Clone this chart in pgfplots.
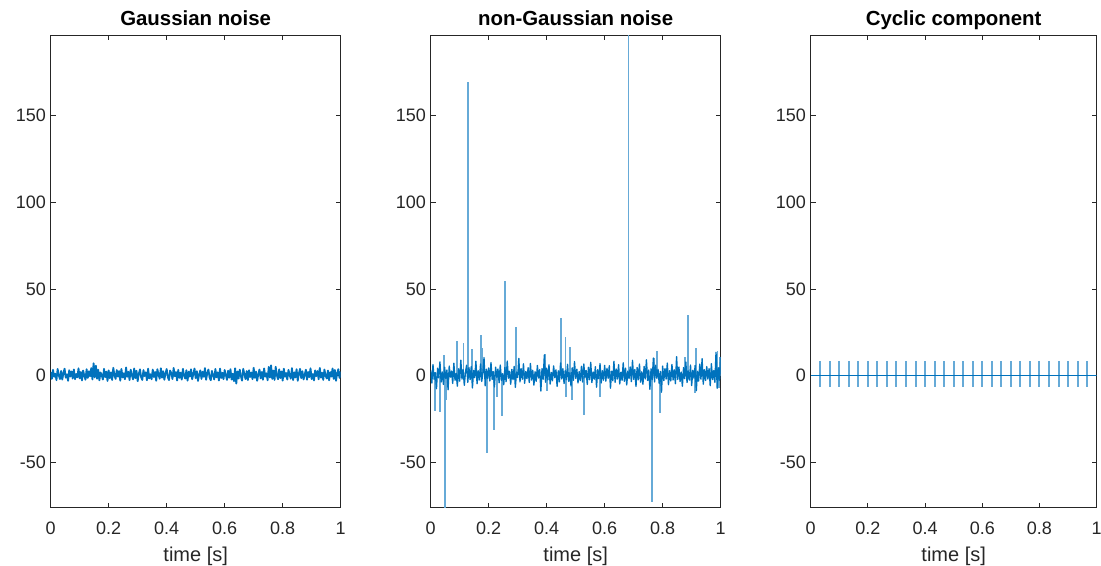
\documentclass[border=0pt]{standalone}
\usepackage{pgfplots}
\pgfplotsset{compat=1.18}
\usepackage{fontspec}
\setmainfont{Liberation Sans}
\definecolor{mblue}{HTML}{0072BD}
\definecolor{axgray}{HTML}{262626}
\colorlet{lblue}{mblue!60!white}
\pgfplotsset{myax/.style={
  anchor=south west, width=217.5pt, height=354.2pt, scale only axis,
  xmin=0, xmax=1, ymin=-76, ymax=196,
  xtick={0,0.2,0.4,0.6,0.8,1}, xticklabels={0,0.2,0.4,0.6,0.8,1},
  ytick={-50,0,50,100,150}, yticklabels={-50,0,50,100,150},
  tick align=inside, major tick length=3.75pt,
  axis line style={draw=axgray, line width=0.7pt},
  tick style={draw=axgray, line width=0.6pt},
  ticklabel style={font=\fontsize{13.5}{16}\selectfont, text=axgray},
  /pgf/number format/assume math mode=true,
  xticklabel style={anchor=base, yshift=-20pt},
  xlabel={time [s]},
  xlabel style={font=\fontsize{15}{18}\selectfont, text=axgray, at={(axis description cs:0.5,0)}, anchor=base, yshift=-40pt},
  title style={font=\fontsize{15.3}{18}\selectfont\bfseries, text=black, at={(axis description cs:0.5,1)}, anchor=base, yshift=1.5pt},
}}
\begin{document}
\begin{tikzpicture}
\path[use as bounding box] (0,0) rectangle (825.75pt,424.5pt);
% ---------------- Gaussian noise
\begin{axis}[myax, at={(38.0pt,43.7pt)}, title={Gaussian noise}]
\addplot[mblue, line width=1.35pt, line join=round] coordinates {
(0,2.1)(0.004,-1.8)(0.008,3.4)(0.012,-0.6)(0.016,1.2)(0.020,-2.5)(0.024,3.9)(0.028,0.3)(0.032,-1.9)(0.036,2.8)
(0.040,-2.2)(0.044,1.5)(0.048,4.1)(0.052,-1.1)(0.056,0.8)(0.060,-2.9)(0.064,3.2)(0.068,-0.4)(0.072,2.5)(0.076,-1.6)
(0.080,3.6)(0.084,-2.0)(0.088,1.0)(0.092,-0.9)(0.096,4.3)(0.100,-1.5)(0.104,2.2)(0.108,-2.7)(0.112,3.0)(0.116,0.1)
(0.120,-2.3)(0.124,3.8)(0.128,-1.2)(0.132,2.6)(0.136,-0.3)(0.140,4.4)(0.144,-2.1)(0.148,7.2)(0.152,-1.0)(0.156,5.8)
(0.160,-1.7)(0.164,3.5)(0.168,-2.6)(0.172,1.9)(0.176,0.5)(0.180,-2.2)(0.184,4.0)(0.188,-0.8)(0.192,2.4)(0.196,-3.0)
(0.200,3.1)(0.204,-1.4)(0.208,2.0)(0.212,-2.4)(0.216,4.6)(0.220,0.2)(0.224,-1.8)(0.228,3.3)(0.232,-0.5)(0.236,2.7)
(0.240,-2.8)(0.244,3.9)(0.248,-1.0)(0.252,1.4)(0.256,-2.0)(0.260,4.8)(0.264,-0.6)(0.268,2.3)(0.272,-2.5)(0.276,3.5)
(0.280,0.4)(0.284,-2.1)(0.288,4.2)(0.292,-1.3)(0.296,2.9)(0.300,-3.1)(0.304,1.1)(0.308,3.7)(0.312,-0.9)(0.316,-2.4)
(0.320,3.3)(0.324,-0.2)(0.328,2.0)(0.332,-2.6)(0.336,4.1)(0.340,-1.5)(0.344,0.9)(0.348,-2.0)(0.352,3.6)(0.356,-0.7)
(0.360,2.2)(0.364,-2.9)(0.368,3.8)(0.372,0.6)(0.376,-1.7)(0.380,4.3)(0.384,-1.1)(0.388,2.6)(0.392,-2.3)(0.396,1.3)
(0.400,3.9)(0.404,-0.8)(0.408,-2.5)(0.412,3.0)(0.416,1.6)(0.420,-1.9)(0.424,4.5)(0.428,-0.3)(0.432,2.1)(0.436,-2.7)
(0.440,3.4)(0.444,-1.2)(0.448,1.8)(0.452,-2.2)(0.456,4.0)(0.460,0.0)(0.464,-1.6)(0.468,3.2)(0.472,-2.8)(0.476,2.4)
(0.480,-0.5)(0.484,3.7)(0.488,-2.0)(0.492,1.0)(0.496,4.2)(0.500,-1.4)(0.504,2.6)(0.508,-3.0)(0.512,0.7)(0.516,3.1)
(0.520,-1.8)(0.524,2.3)(0.528,-0.6)(0.532,4.4)(0.536,-2.3)(0.540,1.5)(0.544,3.6)(0.548,-1.0)(0.552,-2.6)(0.556,2.8)
(0.560,0.3)(0.564,-2.1)(0.568,3.9)(0.572,-0.9)(0.576,2.0)(0.580,-2.7)(0.584,4.1)(0.588,-1.3)(0.592,1.7)(0.596,-2.0)
(0.600,3.3)(0.604,0.5)(0.608,-2.4)(0.612,2.9)(0.616,-1.1)(0.620,3.8)(0.624,-2.2)(0.628,1.2)(0.632,-3.1)(0.636,4.3)
(0.640,-4.5)(0.644,2.5)(0.648,-1.6)(0.652,3.5)(0.656,-0.4)(0.660,-2.8)(0.664,4.0)(0.668,0.9)(0.672,-1.9)(0.676,2.7)
(0.680,-2.5)(0.684,3.2)(0.688,-0.7)(0.692,1.9)(0.696,-2.0)(0.700,4.6)(0.704,-1.2)(0.708,2.4)(0.712,-2.9)(0.716,0.8)
(0.720,3.6)(0.724,-1.5)(0.728,2.2)(0.732,-2.3)(0.736,4.2)(0.740,-0.5)(0.744,1.4)(0.748,-2.6)(0.752,5.1)(0.756,-1.0)
(0.760,6.0)(0.764,-1.8)(0.768,3.0)(0.772,-2.4)(0.776,5.2)(0.780,0.2)(0.784,-2.0)(0.788,3.7)(0.792,-1.3)(0.796,2.5)
(0.800,-2.8)(0.804,4.1)(0.808,-0.6)(0.812,1.6)(0.816,-2.2)(0.820,3.4)(0.824,0.4)(0.828,-1.7)(0.832,4.4)(0.836,-2.5)
(0.840,2.0)(0.844,-1.0)(0.848,3.8)(0.852,-2.9)(0.856,1.3)(0.860,4.0)(0.864,-1.4)(0.868,2.6)(0.872,-2.1)(0.876,0.6)
(0.880,3.5)(0.884,-2.3)(0.888,2.2)(0.892,-0.8)(0.896,4.3)(0.900,-1.9)(0.904,1.0)(0.908,-2.7)(0.912,3.1)(0.916,-0.2)
(0.920,2.7)(0.924,-2.0)(0.928,4.5)(0.932,-1.1)(0.936,1.8)(0.940,-2.4)(0.944,3.6)(0.948,0.1)(0.952,-1.6)(0.956,3.0)
(0.960,-2.6)(0.964,2.1)(0.968,-0.5)(0.972,4.2)(0.976,-1.8)(0.980,3.3)(0.984,-2.9)(0.988,1.5)(0.992,3.8)(0.996,-1.2)
(1.000,2.4)};
\end{axis}
% ---------------- non-Gaussian noise
\begin{axis}[myax, at={(323.0pt,43.7pt)}, title={non-Gaussian noise}]
\addplot[lblue, line width=1.4pt, ycomb] coordinates {
(0.014,-20.5)(0.031,-21)(0.046,12)(0.049,-95)(0.054,-13.8)(0.092,20.3)(0.113,19)(0.129,169)(0.144,15.3)
(0.175,23.6)(0.178,16)(0.193,-44.5)(0.218,-31)(0.230,-12.3)(0.245,-23.4)(0.255,54.6)(0.293,28)(0.393,12.6)
(0.400,-9)(0.448,33)(0.465,22.6)(0.467,-12)(0.480,16.5)(0.488,-14)(0.529,-22.4)(0.583,-12)(0.682,250)
(0.764,-72.8)(0.770,10)(0.779,14)(0.791,-21.4)(0.876,11)(0.887,35)(0.910,-10)(0.916,16)(0.989,14.5)(0.993,-7)(0.997,11)};
\addplot[mblue, line width=1.0pt, line join=round] coordinates {
(0,3.0)(0.004,-4.2)(0.008,6.5)(0.012,-2.0)(0.016,1.8)(0.020,-7.5)(0.024,4.4)(0.028,-1.2)(0.032,8.0)(0.036,-3.6)
(0.040,2.2)(0.044,-5.0)(0.048,4.9)(0.052,-1.5)(0.056,3.3)(0.060,-8.1)(0.064,5.6)(0.068,-0.8)(0.072,2.7)(0.076,-4.4)
(0.080,7.2)(0.084,-2.6)(0.088,1.4)(0.092,-6.0)(0.096,4.0)(0.100,-3.1)(0.104,9.0)(0.108,-1.9)(0.112,3.5)(0.116,-5.5)
(0.120,2.0)(0.124,6.1)(0.128,-3.8)(0.132,4.7)(0.136,-2.2)(0.140,5.3)(0.144,-7.0)(0.148,3.1)(0.152,-1.1)(0.156,8.4)
(0.160,-4.6)(0.164,2.9)(0.168,-2.4)(0.172,6.8)(0.176,-3.3)(0.180,1.6)(0.184,10.5)(0.188,-5.8)(0.192,3.8)(0.196,-1.6)
(0.200,4.5)(0.204,-3.0)(0.208,7.6)(0.212,-2.1)(0.216,2.4)(0.220,-6.4)(0.224,5.0)(0.228,-0.9)(0.232,3.9)(0.236,-4.0)
(0.240,6.2)(0.244,-2.7)(0.248,1.2)(0.252,-5.2)(0.256,4.8)(0.260,-3.4)(0.264,8.5)(0.268,-1.4)(0.272,2.6)(0.276,-4.9)
(0.280,3.7)(0.284,-2.3)(0.288,5.4)(0.292,-6.7)(0.296,2.1)(0.300,-1.0)(0.304,10.0)(0.308,-3.5)(0.312,4.1)(0.316,-2.0)
(0.320,6.9)(0.324,-4.3)(0.328,2.5)(0.332,-1.7)(0.336,4.6)(0.340,-3.9)(0.344,7.1)(0.348,-2.5)(0.352,3.2)(0.356,-5.4)
(0.360,2.3)(0.364,-3.2)(0.368,5.9)(0.372,-1.3)(0.376,3.6)(0.380,-8.8)(0.384,4.2)(0.388,-2.0)(0.392,12.0)(0.396,-3.7)
(0.400,4.4)(0.404,-2.4)(0.408,6.3)(0.412,-4.8)(0.416,1.9)(0.420,-2.9)(0.424,5.7)(0.428,-1.1)(0.432,3.4)(0.436,-6.1)
(0.440,2.8)(0.444,-3.5)(0.448,7.4)(0.452,-1.8)(0.456,4.1)(0.460,-4.5)(0.464,3.0)(0.468,-2.2)(0.472,6.6)(0.476,-3.3)
(0.480,1.7)(0.484,-5.9)(0.488,4.6)(0.492,-2.6)(0.496,8.2)(0.500,-1.5)(0.504,3.8)(0.508,-4.1)(0.512,2.4)(0.516,-2.8)
(0.520,5.5)(0.524,-3.6)(0.528,6.8)(0.532,-1.2)(0.536,3.1)(0.540,-5.0)(0.544,4.9)(0.548,-2.3)(0.552,7.7)(0.556,-3.9)
(0.560,2.2)(0.564,-2.0)(0.568,5.2)(0.572,-6.6)(0.576,3.5)(0.580,-1.7)(0.584,7.0)(0.588,-4.2)(0.592,2.9)(0.596,-2.5)
(0.600,6.0)(0.604,-3.1)(0.608,4.3)(0.612,-1.4)(0.616,5.8)(0.620,-7.2)(0.624,2.6)(0.628,-2.9)(0.632,8.3)(0.636,-3.8)
(0.640,3.9)(0.644,-1.9)(0.648,6.4)(0.652,-4.7)(0.656,2.0)(0.660,-2.6)(0.664,7.5)(0.668,-3.2)(0.672,4.4)(0.676,-5.3)
(0.680,2.7)(0.684,-1.6)(0.688,5.1)(0.692,-3.4)(0.696,8.9)(0.700,-2.1)(0.704,3.6)(0.708,-6.2)(0.712,4.8)(0.716,-2.3)
(0.720,6.7)(0.724,-3.7)(0.728,2.3)(0.732,-4.9)(0.736,5.4)(0.740,-1.8)(0.744,9.2)(0.748,-2.7)(0.752,3.3)(0.756,-7.8)
(0.760,4.0)(0.764,-2.2)(0.768,10.2)(0.772,-3.6)(0.776,6.1)(0.780,-1.5)(0.784,3.7)(0.788,-4.4)(0.792,2.5)(0.796,-9.5)
(0.800,5.6)(0.804,-2.8)(0.808,4.2)(0.812,-1.9)(0.816,7.3)(0.820,-5.1)(0.824,2.9)(0.828,-3.0)(0.832,6.5)(0.836,-2.4)
(0.840,3.4)(0.844,-4.6)(0.848,11.0)(0.852,-2.1)(0.856,5.0)(0.860,-3.3)(0.864,2.1)(0.868,-6.0)(0.872,4.7)(0.876,-1.7)
(0.880,7.9)(0.884,-3.9)(0.888,2.8)(0.892,-2.5)(0.896,6.2)(0.900,-5.6)(0.904,3.2)(0.908,-1.4)(0.912,5.9)(0.916,-8.6)
(0.920,2.6)(0.924,-3.1)(0.928,6.7)(0.932,-2.0)(0.936,9.8)(0.940,-4.8)(0.944,3.5)(0.948,-2.7)(0.952,5.3)(0.956,-1.9)
(0.960,4.1)(0.964,-5.7)(0.968,7.0)(0.972,-2.2)(0.976,3.0)(0.980,-3.8)(0.984,13.5)(0.988,-7.2)(0.992,4.6)(0.996,-2.6)
(1.000,10.8)};
\end{axis}
% ---------------- Cyclic component
\begin{axis}[myax, at={(608.0pt,43.7pt)}, width=214.5pt, title={Cyclic component}]
\addplot[lblue, line width=1.5pt, ycomb] coordinates {
(0.0333,8.5)(0.0667,8.5)(0.1000,8.5)(0.1333,8.5)(0.1667,8.5)(0.2000,8.5)(0.2333,8.5)(0.2667,8.5)(0.3000,8.5)(0.3333,8.5)
(0.3667,8.5)(0.4000,8.5)(0.4333,8.5)(0.4667,8.5)(0.5000,8.5)(0.5333,8.5)(0.5667,8.5)(0.6000,8.5)(0.6333,8.5)(0.6667,8.5)
(0.7000,8.5)(0.7333,8.5)(0.7667,8.5)(0.8000,8.5)(0.8333,8.5)(0.8667,8.5)(0.9000,8.5)(0.9333,8.5)(0.9667,8.5)};
\addplot[lblue, line width=1.5pt, ycomb] coordinates {
(0.0333,-6.5)(0.0667,-6.5)(0.1000,-6.5)(0.1333,-6.5)(0.1667,-6.5)(0.2000,-6.5)(0.2333,-6.5)(0.2667,-6.5)(0.3000,-6.5)(0.3333,-6.5)
(0.3667,-6.5)(0.4000,-6.5)(0.4333,-6.5)(0.4667,-6.5)(0.5000,-6.5)(0.5333,-6.5)(0.5667,-6.5)(0.6000,-6.5)(0.6333,-6.5)(0.6667,-6.5)
(0.7000,-6.5)(0.7333,-6.5)(0.7667,-6.5)(0.8000,-6.5)(0.8333,-6.5)(0.8667,-6.5)(0.9000,-6.5)(0.9333,-6.5)(0.9667,-6.5)};
\addplot[mblue, line width=0.9pt] coordinates {(0,0)(1,0)};
\end{axis}
\end{tikzpicture}
\end{document}
